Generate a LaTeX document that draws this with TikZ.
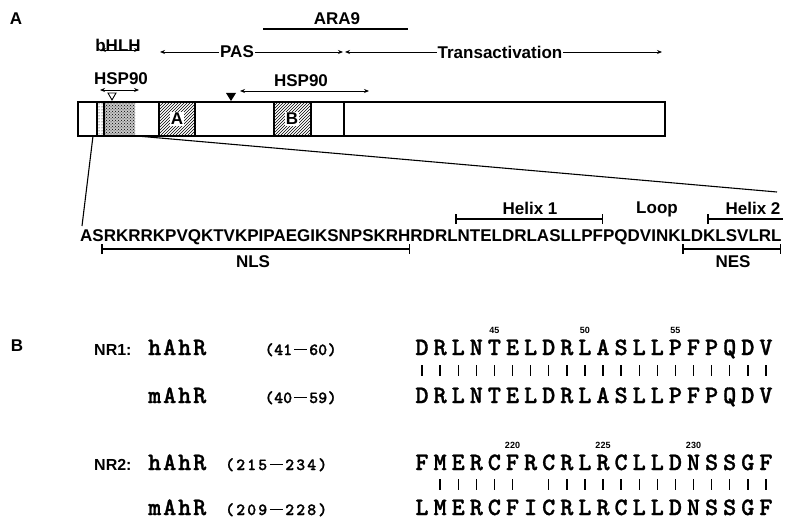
\documentclass[tikz,border=0pt]{standalone}
\usepackage{fontspec}
\setmainfont{Liberation Sans}
\newfontfamily\monobold{lmmonolt10-bold.otf}[FakeBold=1.2]
\usetikzlibrary{patterns,arrows.meta}

% letters set in fixed-width cells
\newcommand{\spaced}[2]{\foreach \sx in {#2}{\makebox[#1]{\sx}}}
\newcommand{\lbar}{\rule[0.28em]{0.75em}{0.09em}}
% residue ranges: cell width for parentheses/digits, then the six digits
\newcommand{\rangetwo}[5]{\makebox[10pt]{(}\makebox[9pt]{#1}\makebox[9pt]{#2}%
  \makebox[17pt]{\lbar}\makebox[9pt]{#3}\makebox[9pt]{#4}\makebox[10pt]{)}}
\newcommand{\rangethree}[6]{\makebox[11pt]{(}\makebox[11pt]{#1}\makebox[11pt]{#2}%
  \makebox[11pt]{#3}\makebox[16pt]{\lbar}\makebox[11pt]{#4}\makebox[11pt]{#5}%
  \makebox[11pt]{#6}\makebox[11pt]{)}}

\begin{document}
\begin{tikzpicture}[x=1pt,y=-1pt,
  lab/.style={font=\fontsize{17}{19}\selectfont\bfseries, inner sep=0pt},
  nrlab/.style={font=\fontsize{16}{18}\selectfont\bfseries, inner sep=0pt, anchor=base west},
  seqA/.style={font=\fontsize{17}{20}\selectfont\bfseries, inner sep=0pt},
  dblarrow/.style={line width=0.9pt,
    {Stealth[length=5pt,width=4pt]}-{Stealth[length=5pt,width=4pt]}},
  brk/.style={line width=1.5pt, {Bar[width=10pt]}-{Bar[width=10pt]}},
  brkleft/.style={line width=1.5pt, {Bar[width=10pt]}-},
  boxlet/.style={font=\fontsize{17}{20}\selectfont\bfseries, fill=white, inner sep=1pt},
  seqch/.style={font=\monobold\fontsize{25}{27}\selectfont, inner sep=0pt, anchor=base},
  mononame/.style={font=\monobold\fontsize{25}{27}\selectfont, inner sep=0pt, anchor=base west},
  monorange/.style={font=\monobold\fontsize{17}{19}\selectfont, inner sep=0pt, anchor=base west},
  numf/.style={font=\fontsize{9}{10}\selectfont\bfseries, inner sep=0pt},
  idbar/.style={line width=1.4pt}]
\useasboundingbox (0,0) rectangle (785,524);

% ---------------- panel A ----------------
\node[lab] (pA) at (16,19) {A};

\node[lab] (ara) at (337,19) {ARA9};
\coordinate (araL) at (263,29); \coordinate (araR) at (408,29);
\draw[line width=1.4pt] (araL) -- (araR);

\coordinate (bhL) at (101,50); \coordinate (bhR) at (139,50);
\draw[dblarrow] (bhL) -- (bhR);
\node[lab] (bhlh) at (118,45) {bHLH};

\coordinate (pasL) at (160,52); \coordinate (pasR) at (343,52);
\draw[dblarrow] (pasL) -- (pasR);
\node[lab, fill=white, inner xsep=1pt] (pas) at (237,52) {PAS};

\coordinate (taL) at (345,52); \coordinate (taR) at (662,52);
\draw[dblarrow] (taL) -- (taR);
\node[lab, fill=white, inner xsep=1pt] (ta) at (500,52) {Transactivation};

\node[lab] (hspA) at (121,79) {HSP90};
\coordinate (hsp1L) at (100,90); \coordinate (hsp1R) at (139,90);
\draw[dblarrow] (hsp1L) -- (hsp1R);

\node[lab] (hspB) at (301,81) {HSP90};
\coordinate (hsp2L) at (240,91); \coordinate (hsp2R) at (369,91);
\draw[dblarrow] (hsp2L) -- (hsp2R);

% ligand-binding markers
\coordinate (openT) at (112,96);
\draw[line width=0.9pt, fill=white] (openT) ++(-4,-3) -- ++(8,0) -- ++(-4,7) -- cycle;
\coordinate (solidT) at (231,97);
\fill (solidT) ++(-5,-4) -- ++(10,0) -- ++(-5,8) -- cycle;

% receptor bar with its domains
\coordinate (barNW) at (78,102); \coordinate (barSE) at (665,136);
\fill[pattern=dots] (97,102) rectangle (104,136);
\fill[gray!45] (104,102) rectangle (135,136);
\fill[pattern=crosshatch dots] (104,102) rectangle (135,136);
\fill[pattern=north east lines] (159,102) rectangle (195,136);
\fill[pattern=north east lines] (274,102) rectangle (311,136);
\draw[line width=1.5pt] (barNW) rectangle (barSE);
\foreach \dx in {97,104,159,195,274,311,344}
  \draw[line width=1.2pt] (\dx,102) -- (\dx,136);
\node[boxlet] (boxA) at (177,119) {A};
\node[boxlet] (boxB) at (292,119) {B};

% expansion lines to the sequence
\coordinate (zL) at (93,136); \coordinate (zR) at (137,136);
\coordinate (sL) at (82,226); \coordinate (sR) at (777,192);
\draw[line width=1.1pt] (zL) -- (sL);
\draw[line width=1.1pt] (zR) -- (sR);

\node[seqA, anchor=base west] (seqa) at (80,241)
  {ASRKRRKPVQKTVKPIPAEGIKSNPSKRHRDRLNTELDRLASLLPFPQDVINKLDKLSVLRL};

\coordinate (h1L) at (455,219); \coordinate (h1R) at (603,219);
\draw[brk] (h1L) -- (h1R);
\node[lab] (hx1) at (530,208) {Helix 1};
\node[lab] (loop) at (657,209) {Loop};
\coordinate (h2L) at (707,219); \coordinate (h2R) at (783,219);
\draw[brkleft] (h2L) -- (h2R);
\node[lab] (hx2) at (753,208) {Helix 2};

\coordinate (nlsL) at (101,249); \coordinate (nlsR) at (410,249);
\draw[brk] (nlsL) -- (nlsR);
\node[lab] (nls) at (253,262) {NLS};
\coordinate (nesL) at (682,249); \coordinate (nesR) at (781,249);
\draw[brk] (nesL) -- (nesR);
\node[lab] (nes) at (733,262) {NES};

% ---------------- panel B ----------------
\node[lab] (pB) at (17,346) {B};

% NR1
\node[nrlab] (nr1) at (94,355) {NR1:};
\node[mononame] (hn1) at (147,355) {\spaced{15pt}{h,A,h,R}};
\node[monorange] (hr1) at (264,355) {\rangetwo{4}{1}{6}{0}{}};
\node[mononame] (mn1) at (147,403) {\spaced{15pt}{m,A,h,R}};
\node[monorange] (mr1) at (264,403) {\rangetwo{4}{0}{5}{9}{}};

\foreach \sx [count=\si from 0] in {D,R,L,N,T,E,L,D,R,L,A,S,L,L,P,F,P,Q,D,V}
  \node[seqch] (ha\si) at ({422+18.1*\si},355) {\sx};
\foreach \sx [count=\si from 0] in {D,R,L,N,T,E,L,D,R,L,A,S,L,L,P,F,P,Q,D,V}
  \node[seqch] (ma\si) at ({422+18.1*\si},403) {\sx};
\foreach \si in {0,...,19}
  \draw[idbar] (ha\si.base) ++(0,10) -- ++(0,11);
\node[numf] (n45) at (ha4.base) [yshift=25pt] {45};
\node[numf] (n50) at (ha9.base) [yshift=25pt] {50};
\node[numf] (n55) at (ha14.base) [yshift=25pt] {55};

% NR2
\node[nrlab] (nr2) at (94,470) {NR2:};
\node[mononame] (hn2) at (147,470) {\spaced{15pt}{h,A,h,R}};
\node[monorange] (hr2) at (224,470) {\rangethree{2}{1}{5}{2}{3}{4}};
\node[mononame] (mn2) at (147,515) {\spaced{15pt}{m,A,h,R}};
\node[monorange] (mr2) at (224,515) {\rangethree{2}{0}{9}{2}{2}{8}};

\foreach \sx [count=\si from 0] in {F,M,E,R,C,F,R,C,R,L,R,C,L,L,D,N,S,S,G,F}
  \node[seqch] (hb\si) at ({422+18.1*\si},470) {\sx};
\foreach \sx [count=\si from 0] in {L,M,E,R,C,F,I,C,R,L,R,C,L,L,D,N,S,S,G,F}
  \node[seqch] (mb\si) at ({422+18.1*\si},515) {\sx};
\foreach \si in {1,...,5,7,8,...,19}
  \draw[idbar] (hb\si.base) ++(0,9) -- ++(0,11);
\node[numf] (n220) at (hb5.base) [yshift=25pt] {220};
\node[numf] (n225) at (hb10.base) [yshift=25pt] {225};
\node[numf] (n230) at (hb15.base) [yshift=25pt] {230};
\end{tikzpicture}
\end{document}
